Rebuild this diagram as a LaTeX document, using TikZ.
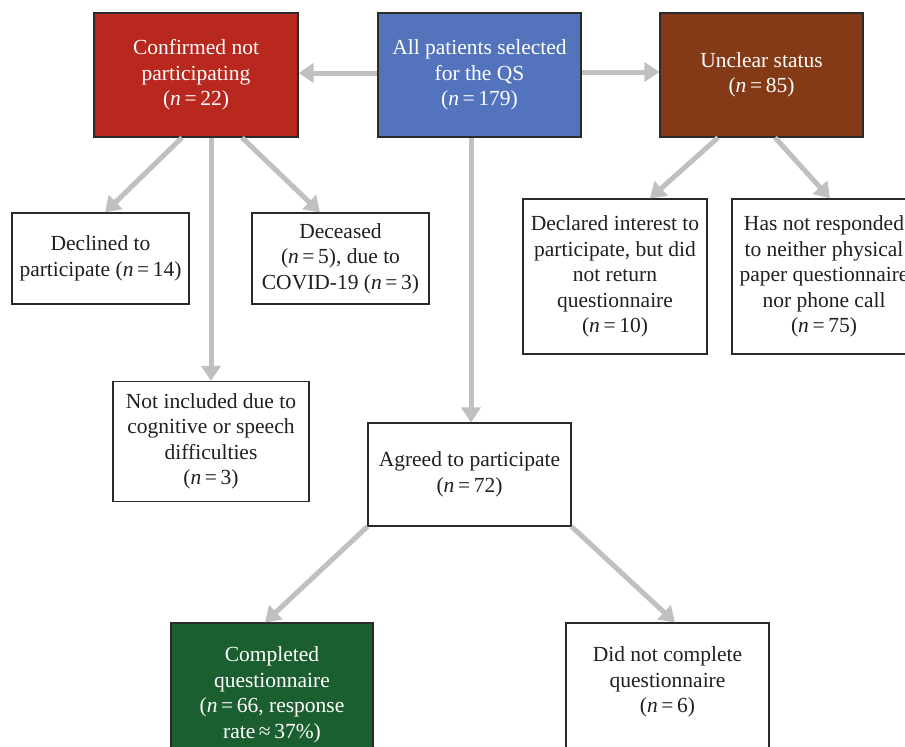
\documentclass[tikz,border=0pt]{standalone}
\usepackage{fontspec}
\setmainfont{Liberation Serif}
\usetikzlibrary{arrows.meta}
\definecolor{cred}{HTML}{B9281E}
\definecolor{cblue}{HTML}{5374BC}
\definecolor{cbrown}{HTML}{843A16}
\definecolor{cgreen}{HTML}{1B5E2F}
\definecolor{carrow}{HTML}{C0C0C0}
\definecolor{ctext}{HTML}{231F20}
\definecolor{cborder}{HTML}{2A2A2A}
\tikzset{
  box/.style={draw=cborder, line width=1.2pt, rectangle, align=center, inner sep=0pt,
    font=\fontsize{21.5}{25.5}\selectfont, text=ctext},
  colbox/.style={box, fill=#1, text=white},
  conn/.style={draw=carrow, line width=5pt, -{Triangle[length=15pt,width=19pt]}},
}
\newcommand{\nn}[1]{(\textit{n}\,=\,#1)}
\begin{document}
\begin{tikzpicture}[x=1pt,y=-1pt]
\useasboundingbox (0,0) rectangle (905,747);
\clip (0,0) rectangle (905,747);
\fill[white] (0,0) rectangle (905,747);

\node[colbox=cred, minimum width=204pt, minimum height=124pt] (conf) at (196,75)
  {Confirmed not\\participating\\\nn{22}};
\node[colbox=cblue, minimum width=203pt, minimum height=124pt] (all) at (479.5,75)
  {All patients selected\\for the QS\\\nn{179}};
\node[colbox=cbrown, minimum width=203pt, minimum height=124pt] (uncl) at (761.5,75)
  {Unclear status\\\nn{85}};

\node[box, minimum width=177pt, minimum height=91pt] (decl) at (100.5,258.5)
  {Declined to\\participate \nn{14}};
\node[box, minimum width=177pt, minimum height=91pt] (dec) at (340.5,258.5)
  {Deceased\\\nn{5}, due to\\COVID-19 \nn{3}};
\node[box, minimum width=196pt, minimum height=120pt] (notinc) at (211,441.5)
  {Not included due to\\cognitive or speech\\difficulties\\\nn{3}};

\node[box, minimum width=184pt, minimum height=155pt] (declint) at (615,276.5)
  {Declared interest to\\participate, but did\\not return\\questionnaire\\\nn{10}};
\node[box, minimum width=184pt, minimum height=155pt] (hasnot) at (824,276.5)
  {Has not responded\\to neither physical\\paper questionnaire\\nor phone call\\\nn{75}};

\node[box, minimum width=203pt, minimum height=103pt] (agr) at (469.5,474.5)
  {Agreed to participate\\\nn{72}};

\node[colbox=cgreen, minimum width=202pt, minimum height=144pt] (comp) at (272,695)
  {Completed\\questionnaire\\(\textit{n}\,=\,66, response\\rate\,≈\,37\%)};
\node[box, minimum width=203pt, minimum height=154pt, text depth=40pt] (didnot) at (667.5,700)
  {Did not complete\\questionnaire\\\nn{6}};

\draw[conn] ([yshift=2pt]all.west) -- ([yshift=2pt]conf.east);
\draw[conn] ([yshift=3pt]all.east) -- ([yshift=3pt]uncl.west);
\draw[conn] ([xshift=-8.5pt]all.south) -- ([xshift=1.5pt]agr.north);

\draw[conn] ([xshift=-14pt]conf.south) -- ([xshift=4.5pt]decl.north);
\draw[conn] ([xshift=15pt]conf.south) -- (notinc.north);
\draw[conn] ([xshift=46pt]conf.south) -- ([xshift=-20.5pt]dec.north);

\draw[conn] ([xshift=-43.5pt]uncl.south) -- ([xshift=35pt]declint.north);
\draw[conn] ([xshift=13.5pt]uncl.south) -- ([xshift=6pt]hasnot.north);

\draw[conn] (agr.south west) -- ([xshift=-7pt]comp.north);
\draw[conn] (agr.south east) -- ([xshift=7.5pt]didnot.north);
\end{tikzpicture}
\end{document}
